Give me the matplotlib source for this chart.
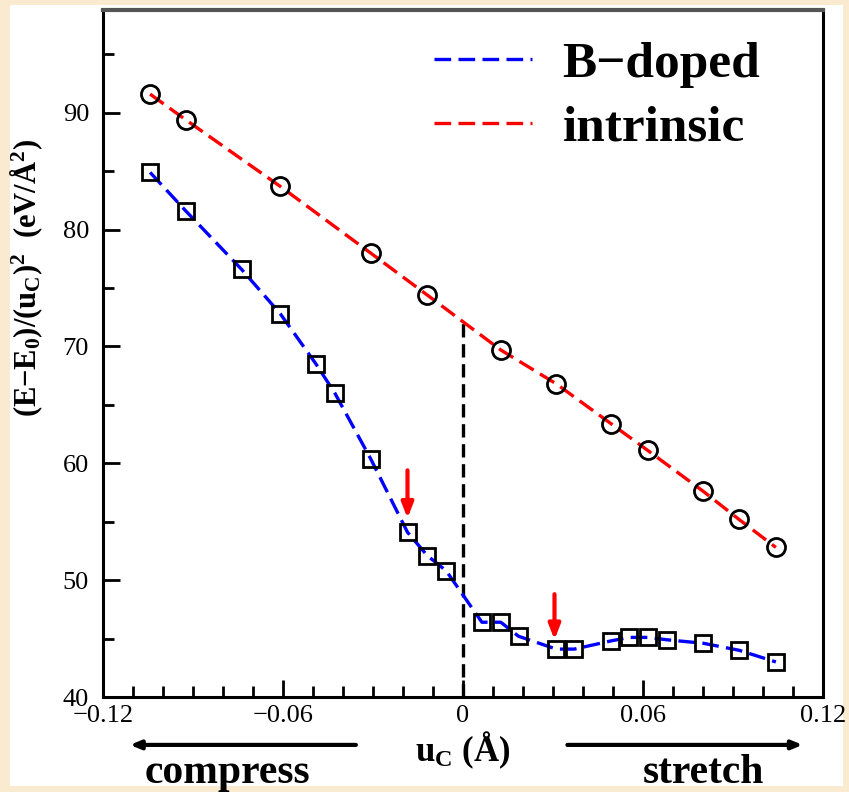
import matplotlib
matplotlib.use("Agg")
import matplotlib.pyplot as plt
from matplotlib.patches import Rectangle

plt.rcParams['font.family'] = ['Liberation Serif', 'DejaVu Serif']
plt.rcParams['mathtext.fontset'] = 'custom'
plt.rcParams['mathtext.rm'] = 'Liberation Serif:bold'
plt.rcParams['mathtext.it'] = 'Liberation Serif:bold'
plt.rcParams['mathtext.bf'] = 'Liberation Serif:bold'

# ---- data ----
u_intrinsic = [-0.1043, -0.0924, -0.0609, -0.0308, -0.0119, 0.0126, 0.0311,
               0.0493, 0.0616, 0.0801, 0.0920, 0.1043]
e_intrinsic = [91.6, 89.4, 83.7, 78.0, 74.4, 69.7, 66.8, 63.4, 61.1, 57.6, 55.2, 52.8]

u_bdoped = [-0.1043, -0.0924, -0.0738, -0.0609, -0.0490, -0.0427, -0.0308, -0.0185,
            -0.0119, -0.0056, 0.0063, 0.0126, 0.0185, 0.0311, 0.0371, 0.0493,
            0.0553, 0.0616, 0.0679, 0.0801, 0.0920, 0.1043]
e_bdoped = [84.9, 81.6, 76.6, 72.8, 68.5, 66.0, 60.4, 54.1, 52.1, 50.8, 46.4, 46.4,
            45.2, 44.1, 44.1, 44.8, 45.1, 45.1, 44.9, 44.6, 44.0, 43.0]

arrow_u = [-0.0185, 0.0305]
arrow_top = [59.4, 48.8]
arrow_tip = [55.3, 44.9]

x_ticks = [-0.12, -0.06, 0, 0.06, 0.12]
x_ticklabels = ['\u22120.12', '\u22120.06', '0', '0.06', '0.12']
y_ticks = [40, 50, 60, 70, 80, 90]
zero_line_top = 72.2

# ---- figure ----
fig = plt.figure(figsize=(8.49, 7.92), dpi=100)
fig.patch.set_facecolor('#FAEAD0')
bg = Rectangle((10/849, 1-786/792), (843-10)/849, (786-5)/792,
               transform=fig.transFigure, facecolor='white',
               edgecolor='none', zorder=-10)
fig.patches.append(bg)
ax = fig.add_axes([103/849, 1-697/792, (823-103)/849, (697-10)/792])
ax.set_facecolor('white')

ax.plot(u_bdoped, e_bdoped, color='#0000FF', lw=2.4, dashes=(5, 2.2), zorder=2,
        label='B\u2212doped')
ax.plot(u_intrinsic, e_intrinsic, color='#FF0000', lw=2.4, dashes=(5, 2.2), zorder=2,
        label='intrinsic')
ax.plot(u_bdoped, e_bdoped, ls='none', marker='s', ms=11, mfc='none', mec='black',
        mew=2.0, zorder=3)
ax.plot(u_intrinsic, e_intrinsic, ls='none', marker='o', ms=13, mfc='none', mec='black',
        mew=2.0, zorder=3)

ax.plot([0, 0], [40, zero_line_top], color='black', lw=2.4, dashes=(4, 2), zorder=1)

for xa, yt, yb in zip(arrow_u, arrow_top, arrow_tip):
    ax.annotate('', xy=(xa, yb), xytext=(xa, yt),
                arrowprops=dict(arrowstyle='-|>,head_length=0.9,head_width=0.35',
                                color='#FF0000', lw=3, shrinkA=0, shrinkB=0))

ax.set_xlim(-0.12, 0.12)
ax.set_ylim(40, 98.8)
ax.set_xticks(x_ticks)
ax.set_xticklabels(x_ticklabels)
ax.set_yticks(y_ticks)
ax.set_xticks([i / 100 for i in range(-12, 13)], minor=True)
ax.set_yticks(list(range(40, 99, 5)), minor=True)
ax.tick_params(which='both', direction='in', top=False, right=False, width=2,
               labelsize=19, colors='black')
ax.tick_params(which='major', length=12)
ax.tick_params(axis='x', which='major', pad=6)
ax.tick_params(axis='y', which='major', pad=10)
ax.tick_params(which='minor', length=8)
for s in ax.spines.values():
    s.set_linewidth(2.2)
ax.spines['top'].set_color('#555555')
ax.spines['top'].set_linewidth(3)

ax.set_ylabel(r'(E$-$E$_0$)/(u$_\mathrm{C}$)$^2$  (eV/Å$^2$)', fontsize=22,
              fontweight='bold')
ax.yaxis.set_label_coords(-0.08, 0.61)

leg = ax.legend(loc='upper right', bbox_to_anchor=(0.977, 1.022), frameon=False,
                prop={'family': 'Liberation Serif', 'weight': 'bold', 'size': 37},
                handlelength=1.9, handletextpad=0.6, labelspacing=0.32)

# below-axis annotations
ax.text(0, 35.45, r'u$_\mathrm{C}$ (Å)', ha='center', va='center', fontsize=25,
        fontweight='bold')
ax.annotate('', xy=(-0.111, 35.9), xytext=(-0.0357, 35.9), xycoords='data',
            arrowprops=dict(arrowstyle='-|>,head_length=0.6,head_width=0.25',
                            color='black', lw=3, shrinkA=0, shrinkB=0),
            annotation_clip=False)
ax.annotate('', xy=(0.1132, 35.9), xytext=(0.0348, 35.9), xycoords='data',
            arrowprops=dict(arrowstyle='-|>,head_length=0.6,head_width=0.25',
                            color='black', lw=3, shrinkA=0, shrinkB=0),
            annotation_clip=False)
ax.text(-0.0785, 33.5, 'compress', ha='center', va='center', fontsize=30,
        fontweight='bold')
ax.text(0.0801, 33.5, 'stretch', ha='center', va='center', fontsize=30,
        fontweight='bold')

fig.savefig('out.png', dpi=100, facecolor=fig.get_facecolor())
